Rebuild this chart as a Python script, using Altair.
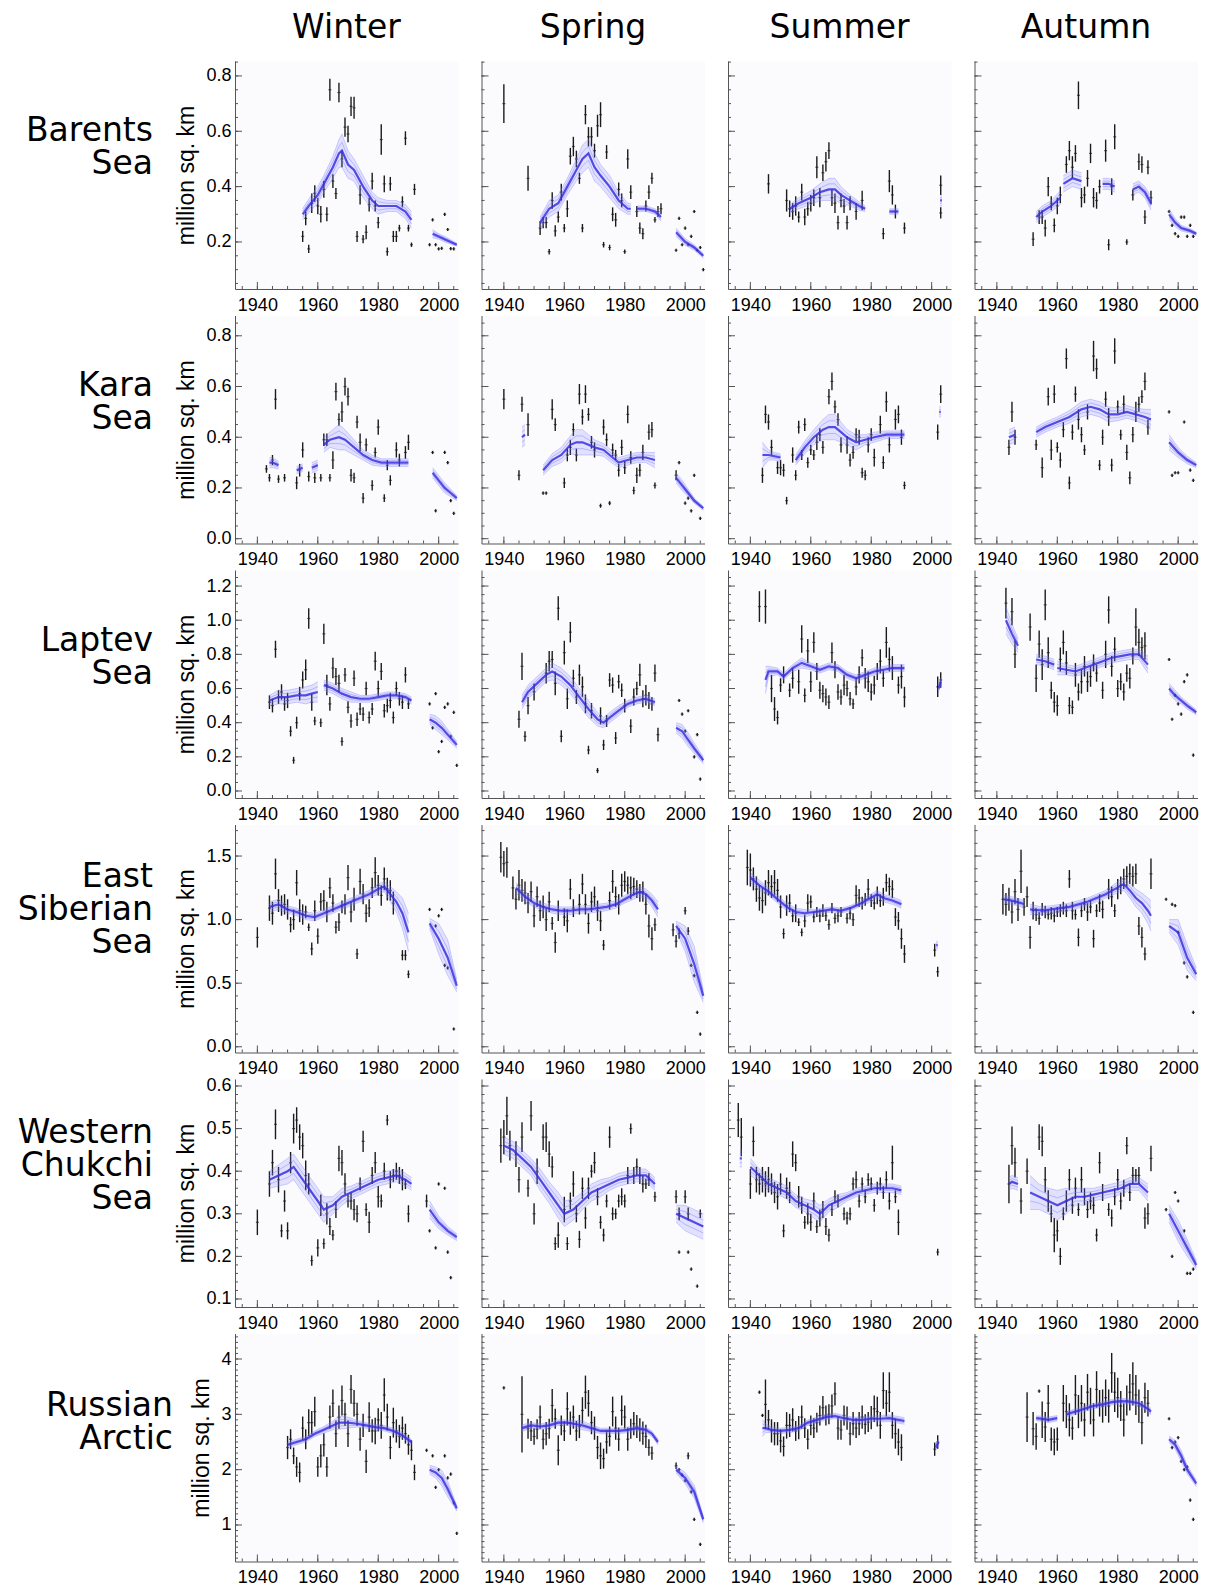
import altair as alt
import numpy as np
import pandas as pd

# ---------------- labels / axes ----------------
SEASONS = ["Winter", "Spring", "Summer", "Autumn"]
ROW_LABELS = ["Barents\nSea", "Kara\nSea", "Laptev\nSea", "East\nSiberian\nSea",
              "Western\nChukchi\nSea", "Russian\nArctic"]
YEAR_TICKS = [1940, 1960, 1980, 2000]
XDOM = [1932.6, 2006.4]
Y_DOMAINS = [[0.030, 0.854], [-0.019, 0.880], [-0.041, 1.294],
             [-0.045, 1.748], [0.0812, 0.6164], [0.340, 4.461]]
Y_LABELS = [[0.2, 0.4, 0.6, 0.8], [0.0, 0.2, 0.4, 0.6, 0.8],
            [0.0, 0.2, 0.4, 0.6, 0.8, 1.0, 1.2], [0.0, 0.5, 1.0, 1.5],
            [0.1, 0.2, 0.3, 0.4, 0.5, 0.6], [1, 2, 3, 4]]
Y_FORMATS = [".1f", ".1f", ".1f", ".1f", ".1f", "d"]
Y_MINOR = [0.05, 0.05, 0.05, 0.1, 0.02, 0.1]

# ---------------- data: (year, value, half error) ----------------
BARENTS_WINTER = [(1955,0.22,0.02),(1956,0.285,0.025),(1957,0.175,0.015),(1958,0.34,0.035),(1959,0.375,0.03),(1960,0.33,0.03),(1961,0.30,0.03),(1962,0.39,0.03),(1963,0.30,0.025),(1964,0.75,0.04),(1965,0.42,0.025),(1966,0.375,0.02),(1967,0.74,0.035),(1968,0.50,0.03),(1969,0.615,0.035),(1970,0.59,0.03),(1971,0.69,0.035),(1972,0.685,0.04),(1973,0.22,0.02),(1974,0.37,0.035),(1975,0.21,0.015),(1976,0.235,0.025),(1977,0.335,0.025),(1978,0.42,0.03),(1979,0.33,0.02),(1980,0.27,0.02),(1981,0.57,0.055),(1982,0.41,0.03),(1983,0.165,0.015),(1984,0.41,0.025),(1985,0.22,0.02),(1986,0.22,0.02),(1987,0.25,0.012),(1988,0.345,0.02),(1989,0.575,0.025),(1990,0.25,0.012),(1991,0.19,0.008),(1992,0.39,0.02),
    (1997,0.19,0),(1998,0.28,0),(1999,0.19,0),(2000,0.175,0),(2001,0.177,0),(2002,0.30,0),(2003,0.245,0),(2004,0.176,0),(2005,0.175,0)]
BARENTS_SPRING = [(1940,0.70,0.07),(1948,0.43,0.045),(1952,0.25,0.025),(1953,0.27,0.02),(1954,0.27,0.02),(1955,0.165,0.01),(1956,0.35,0.03),(1957,0.24,0.02),(1958,0.29,0.02),(1959,0.38,0.03),(1960,0.25,0.015),(1961,0.32,0.03),(1962,0.51,0.03),(1963,0.545,0.035),(1964,0.50,0.03),(1965,0.43,0.02),(1966,0.25,0.015),(1967,0.66,0.035),(1968,0.58,0.035),(1969,0.58,0.035),(1970,0.53,0.025),(1971,0.62,0.04),(1972,0.66,0.045),(1973,0.19,0.01),(1974,0.525,0.025),(1975,0.18,0.01),(1976,0.30,0.025),(1977,0.28,0.025),(1978,0.39,0.025),(1979,0.35,0.025),(1980,0.165,0.008),(1981,0.50,0.035),(1982,0.38,0.025),(1984,0.31,0.02),(1985,0.25,0.02),(1986,0.23,0.02),(1987,0.33,0.02),(1988,0.38,0.025),(1989,0.43,0.02),(1990,0.28,0.01),(1991,0.31,0.02),(1992,0.32,0.02),
    (1997,0.17,0),(1998,0.285,0),(1999,0.19,0),(2000,0.25,0),(2001,0.19,0),(2002,0.22,0),(2003,0.31,0),(2004,0.17,0),(2005,0.18,0),(2006,0.10,0)]
BARENTS_SUMMER = [(1946,0.41,0.035),(1952,0.35,0.04),(1953,0.32,0.03),(1954,0.31,0.03),(1955,0.33,0.035),(1956,0.29,0.02),(1957,0.38,0.03),(1958,0.29,0.03),(1959,0.32,0.025),(1960,0.34,0.03),(1961,0.36,0.03),(1962,0.47,0.04),(1963,0.36,0.035),(1964,0.45,0.03),(1965,0.49,0.035),(1966,0.53,0.03),(1967,0.36,0.03),(1968,0.34,0.035),(1969,0.27,0.025),(1970,0.35,0.025),(1971,0.33,0.025),(1972,0.27,0.025),(1973,0.34,0.025),(1975,0.31,0.03),(1977,0.35,0.035),
    (1984,0.23,0.02),(1986,0.42,0.04),(1987,0.37,0.035),(1988,0.31,0.025),(1991,0.25,0.02),(2003,0.405,0.035),(2003,0.305,0.02)]
BARENTS_AUTUMN = [(1952,0.21,0.025),(1954,0.29,0.025),(1955,0.29,0.025),(1956,0.25,0.03),(1957,0.40,0.035),(1958,0.34,0.025),(1959,0.26,0.025),(1960,0.33,0.03),(1961,0.37,0.03),(1963,0.48,0.03),(1964,0.53,0.035),(1965,0.47,0.04),(1966,0.52,0.03),(1967,0.73,0.05),(1968,0.36,0.035),(1969,0.37,0.03),(1970,0.43,0.03),(1971,0.52,0.035),(1972,0.36,0.035),(1973,0.35,0.03),(1974,0.40,0.025),(1976,0.53,0.04),(1977,0.19,0.02),(1978,0.40,0.03),(1979,0.58,0.045),(1983,0.20,0.01),(1985,0.37,0.02),(1987,0.49,0.03),(1988,0.48,0.03),(1989,0.29,0.025),(1990,0.47,0.025),(1991,0.36,0.025),
    (1997,0.31,0),(1998,0.26,0),(1999,0.23,0),(2000,0.22,0),(2001,0.29,0),(2002,0.29,0),(2003,0.22,0),(2004,0.26,0),(2005,0.22,0)]

KARA_WINTER = [(1943,0.275,0.015),(1944,0.24,0.015),(1945,0.31,0.02),(1946,0.55,0.04),(1947,0.235,0.015),(1949,0.24,0.015),(1953,0.22,0.025),(1954,0.27,0.025),(1955,0.35,0.03),(1957,0.245,0.02),(1959,0.24,0.02),(1961,0.24,0.015),(1962,0.39,0.025),(1963,0.39,0.025),(1964,0.24,0.015),(1965,0.31,0.035),(1966,0.58,0.035),(1967,0.47,0.025),(1968,0.50,0.04),(1969,0.60,0.035),(1970,0.56,0.035),(1971,0.25,0.025),(1972,0.24,0.02),(1973,0.46,0.025),(1974,0.38,0.035),(1975,0.16,0.02),(1976,0.37,0.025),(1978,0.21,0.02),(1979,0.34,0.02),(1980,0.44,0.03),(1982,0.16,0.015),(1983,0.29,0.02),(1984,0.23,0.02),(1986,0.35,0.03),(1987,0.31,0.025),(1989,0.34,0.025),(1990,0.38,0.03),
    (1998,0.34,0),(1999,0.11,0),(2002,0.34,0),(2003,0.30,0),(2004,0.15,0),(2005,0.10,0)]
KARA_SPRING = [(1940,0.55,0.04),(1945,0.25,0.02),(1946,0.53,0.03),(1948,0.45,0.045),(1953,0.18,0.006),(1954,0.18,0.006),(1956,0.51,0.04),(1957,0.45,0.025),(1960,0.22,0.02),(1961,0.33,0.025),(1962,0.36,0.03),(1963,0.43,0.025),(1964,0.33,0.025),(1965,0.57,0.04),(1966,0.48,0.03),(1967,0.57,0.035),(1968,0.49,0.025),(1969,0.38,0.025),(1970,0.35,0.03),(1972,0.13,0.008),(1973,0.44,0.03),(1974,0.39,0.025),(1975,0.14,0.008),(1976,0.35,0.025),(1977,0.33,0.02),(1978,0.27,0.025),(1979,0.36,0.03),(1980,0.28,0.025),(1981,0.49,0.035),(1982,0.32,0.025),(1983,0.19,0.015),(1984,0.25,0.03),(1985,0.27,0.025),(1986,0.34,0.03),(1988,0.42,0.03),(1989,0.43,0.03),(1990,0.21,0.012),
    (1997,0.25,0.02),(1998,0.30,0),(2000,0.14,0),(2001,0.16,0),(2002,0.11,0),(2003,0.25,0),(2005,0.08,0)]
KARA_SUMMER = [(1944,0.25,0.03),(1945,0.49,0.035),(1946,0.46,0.03),(1947,0.36,0.03),(1949,0.28,0.025),(1950,0.28,0.03),(1951,0.27,0.025),(1952,0.15,0.015),(1954,0.33,0.03),(1955,0.25,0.02),(1956,0.44,0.025),(1957,0.33,0.02),(1958,0.45,0.025),(1959,0.30,0.02),(1960,0.35,0.02),(1961,0.33,0.02),(1962,0.38,0.03),(1963,0.41,0.025),(1964,0.36,0.025),(1966,0.56,0.03),(1967,0.62,0.035),(1968,0.52,0.025),(1969,0.47,0.025),(1970,0.37,0.03),(1972,0.37,0.035),(1973,0.31,0.025),(1974,0.34,0.025),(1975,0.41,0.025),(1976,0.40,0.03),(1977,0.26,0.02),(1978,0.25,0.02),(1979,0.37,0.03),(1980,0.41,0.025),(1981,0.32,0.035),(1983,0.45,0.035),(1984,0.30,0.025),(1985,0.54,0.04),(1986,0.37,0.03),(1988,0.47,0.04),(1989,0.49,0.035),(1990,0.40,0.03),(1991,0.21,0.015),
    (2002,0.42,0.03),(2003,0.57,0.035)]
KARA_AUTUMN = [(1944,0.36,0.03),(1945,0.50,0.04),(1946,0.40,0.03),(1953,0.37,0.02),(1955,0.28,0.04),(1957,0.56,0.035),(1958,0.35,0.04),(1959,0.57,0.035),(1960,0.36,0.02),(1961,0.31,0.03),(1962,0.43,0.03),(1963,0.71,0.04),(1964,0.22,0.025),(1965,0.42,0.03),(1966,0.57,0.03),(1967,0.47,0.04),(1968,0.41,0.03),(1969,0.35,0.02),(1970,0.50,0.03),(1972,0.72,0.06),(1973,0.67,0.04),(1974,0.29,0.02),(1975,0.40,0.03),(1976,0.55,0.03),(1977,0.48,0.035),(1978,0.29,0.025),(1979,0.74,0.05),(1980,0.52,0.025),(1981,0.41,0.02),(1982,0.53,0.035),(1983,0.34,0.03),(1984,0.24,0.025),(1985,0.41,0.03),(1986,0.50,0.04),(1987,0.53,0.03),(1988,0.56,0.025),(1989,0.62,0.035),(1990,0.44,0.03),
    (1997,0.50,0.006),(1998,0.25,0),(1999,0.26,0),(2000,0.26,0),(2002,0.46,0),(2004,0.27,0),(2005,0.23,0)]

LAPTEV_WINTER = [(1944,0.52,0.04),(1945,0.50,0.04),(1946,0.83,0.05),(1947,0.55,0.04),(1948,0.58,0.045),(1949,0.51,0.04),(1950,0.53,0.045),(1951,0.35,0.03),(1952,0.18,0.02),(1953,0.40,0.035),(1954,0.57,0.04),(1955,0.65,0.05),(1956,0.71,0.06),(1957,1.01,0.06),(1958,0.52,0.05),(1959,0.41,0.025),
    (1961,0.40,0.025),(1962,0.92,0.06),(1963,0.62,0.06),(1964,0.51,0.04),(1965,0.72,0.06),(1966,0.67,0.05),(1967,0.63,0.05),(1968,0.29,0.025),(1969,0.68,0.04),(1970,0.49,0.035),(1971,0.41,0.04),(1972,0.66,0.045),(1973,0.42,0.04),(1974,0.48,0.035),(1975,0.45,0.04),(1976,0.60,0.04),(1977,0.43,0.035),(1978,0.48,0.035),(1979,0.76,0.055),(1980,0.60,0.045),(1981,0.70,0.05),(1982,0.47,0.04),(1983,0.50,0.04),(1984,0.53,0.045),(1985,0.43,0.035),(1986,0.60,0.04),(1987,0.54,0.04),(1988,0.52,0.04),(1989,0.68,0.045),(1990,0.51,0.03),
    (1997,0.51,0),(1998,0.37,0),(1999,0.57,0),(2000,0.23,0),(2001,0.29,0),(2002,0.49,0),(2003,0.51,0),(2004,0.32,0),(2005,0.46,0),(2006,0.15,0)]
LAPTEV_SPRING = [(1945,0.42,0.05),(1946,0.73,0.08),(1947,0.32,0.03),(1948,0.50,0.05),(1950,0.58,0.05),(1954,0.69,0.06),(1955,0.76,0.06),(1956,0.77,0.05),(1957,0.63,0.07),(1958,1.07,0.07),(1959,0.32,0.035),(1960,0.81,0.07),(1961,0.54,0.06),(1962,0.93,0.06),(1963,0.66,0.05),(1964,0.55,0.04),(1965,0.68,0.06),(1966,0.61,0.06),(1967,0.51,0.055),(1968,0.24,0.025),(1969,0.47,0.045),(1971,0.12,0.015),(1972,0.44,0.05),(1973,0.27,0.03),(1974,0.41,0.035),(1975,0.65,0.04),(1976,0.62,0.045),(1977,0.31,0.035),(1978,0.64,0.04),(1979,0.59,0.04),(1980,0.50,0.04),(1982,0.38,0.04),(1983,0.55,0.05),(1984,0.60,0.04),(1985,0.68,0.065),(1986,0.54,0.05),(1987,0.56,0.06),(1988,0.53,0.05),(1989,0.51,0.04),(1990,0.69,0.05),(1991,0.33,0.04),
    (1998,0.53,0),(1999,0.45,0),(2000,0.35,0),(2001,0.47,0),(2003,0.20,0),(2004,0.33,0),(2005,0.07,0)]
LAPTEV_SUMMER = [(1943,1.08,0.09),(1945,1.08,0.10),(1947,0.60,0.08),(1948,0.48,0.07),(1949,0.43,0.04),(1950,0.62,0.04),(1951,0.68,0.05),(1953,0.59,0.04),(1954,0.66,0.06),(1956,0.64,0.07),(1957,0.89,0.08),(1958,0.56,0.04),(1959,0.82,0.07),(1960,0.64,0.06),(1961,0.87,0.06),(1962,0.70,0.05),(1963,0.59,0.05),(1964,0.57,0.05),(1965,0.55,0.05),(1966,0.52,0.04),(1967,0.81,0.06),(1968,0.71,0.05),(1969,0.58,0.045),(1970,0.55,0.045),(1971,0.62,0.06),(1972,0.60,0.045),(1973,0.54,0.04),(1974,0.51,0.03),(1975,0.61,0.05),(1976,0.68,0.05),(1977,0.78,0.05),(1978,0.66,0.06),(1979,0.64,0.06),(1980,0.58,0.05),(1981,0.62,0.055),(1982,0.70,0.05),(1983,0.76,0.07),(1984,0.66,0.05),(1985,0.87,0.09),(1986,0.77,0.07),(1987,0.72,0.07),(1989,0.62,0.05),(1990,0.67,0.07),(1991,0.55,0.06),
    (2002,0.61,0.06),(2003,0.65,0.045)]
LAPTEV_AUTUMN = [(1943,1.10,0.09),(1945,1.05,0.08),(1946,0.80,0.08),(1951,0.96,0.08),(1953,0.66,0.08),(1954,0.86,0.08),(1955,0.74,0.09),(1956,1.09,0.09),(1957,0.81,0.09),(1958,0.59,0.05),(1959,0.52,0.06),(1960,0.50,0.06),(1961,0.77,0.07),(1962,0.87,0.07),(1963,0.75,0.07),(1964,0.50,0.05),(1965,0.49,0.04),(1966,0.68,0.07),(1967,0.58,0.05),(1968,0.64,0.07),(1969,0.73,0.06),(1970,0.64,0.06),(1971,0.67,0.06),(1972,0.75,0.05),(1973,0.69,0.05),(1975,0.59,0.05),(1976,0.80,0.08),(1977,1.06,0.08),(1978,0.73,0.06),(1979,0.83,0.07),(1980,0.60,0.05),(1981,0.64,0.05),(1982,0.58,0.05),(1983,0.69,0.05),(1984,0.66,0.06),(1985,0.79,0.05),(1986,0.96,0.11),(1987,0.87,0.08),(1988,0.84,0.06),(1989,0.85,0.08),
    (1997,0.77,0),(1998,0.42,0),(1999,0.56,0),(2000,0.51,0),(2001,0.45,0),(2002,0.64,0),(2003,0.68,0),(2005,0.21,0)]

ESIB_WINTER = [(1940,0.86,0.08),(1944,1.09,0.10),(1945,1.05,0.09),(1946,1.36,0.12),(1947,1.15,0.09),(1948,1.11,0.08),(1949,1.12,0.08),(1950,1.08,0.08),(1951,0.96,0.06),(1952,1.00,0.08),(1953,1.29,0.10),(1954,1.07,0.09),(1955,1.04,0.08),(1956,1.06,0.05),(1957,0.94,0.03),(1958,0.77,0.05),(1959,1.07,0.08),(1960,0.87,0.06),(1961,1.14,0.07),(1962,1.15,0.08),(1963,1.06,0.08),(1964,1.25,0.08),(1965,1.13,0.07),(1966,0.94,0.05),(1967,0.98,0.07),(1968,1.10,0.05),(1969,1.12,0.08),(1970,1.33,0.10),(1971,1.06,0.08),(1972,1.16,0.09),(1973,0.73,0.04),(1974,1.30,0.10),(1975,1.20,0.08),(1976,1.05,0.07),(1977,1.09,0.07),(1978,1.25,0.08),(1979,1.37,0.12),(1980,1.27,0.08),(1981,1.19,0.08),(1982,1.32,0.09),(1983,1.24,0.09),(1984,1.23,0.08),(1985,1.13,0.09),(1988,0.72,0.04),(1989,0.72,0.04),(1990,0.57,0.03),
    (1997,1.08,0),(1999,0.95,0),(2000,1.03,0),(2001,1.08,0),(2002,0.64,0),(2003,0.62,0),(2005,0.14,0)]
ESIB_SPRING = [(1939,1.49,0.12),(1940,1.44,0.10),(1941,1.45,0.12),(1943,1.25,0.09),(1944,1.16,0.08),(1945,1.27,0.12),(1946,1.23,0.09),(1947,1.21,0.09),(1948,1.13,0.08),(1949,1.22,0.08),(1950,1.03,0.09),(1951,1.18,0.08),(1952,1.07,0.08),(1953,1.10,0.09),(1954,1.00,0.09),(1955,1.14,0.08),(1956,0.97,0.05),(1957,0.82,0.08),(1958,1.07,0.08),(1960,1.02,0.07),(1961,0.99,0.09),(1962,1.24,0.08),(1963,1.09,0.07),(1965,1.12,0.08),(1966,1.28,0.08),(1967,1.12,0.08),(1968,0.97,0.08),(1969,1.14,0.08),(1970,1.18,0.08),(1971,1.07,0.08),(1972,0.99,0.08),(1973,0.80,0.04),(1975,1.15,0.07),(1976,1.30,0.09),(1977,1.18,0.08),(1978,1.12,0.08),(1979,1.27,0.09),(1980,1.30,0.08),(1981,1.27,0.07),(1982,1.25,0.09),(1983,1.26,0.07),(1984,1.24,0.07),(1985,1.21,0.07),(1986,1.22,0.08),(1987,1.12,0.08),(1988,0.95,0.09),(1989,0.85,0.09),(1990,0.96,0.05),
    (1996,0.92,0.05),(1997,0.83,0.05),(1998,0.89,0.04),(2000,1.07,0.03),(2001,0.91,0.03),(2002,0.64,0),(2003,0.56,0),(2004,0.27,0),(2005,0.10,0)]
ESIB_SUMMER = [(1939,1.41,0.14),(1940,1.39,0.13),(1941,1.32,0.09),(1942,1.24,0.10),(1943,1.17,0.10),(1944,1.15,0.10),(1945,1.21,0.10),(1946,1.29,0.10),(1947,1.26,0.09),(1948,1.29,0.10),(1949,1.23,0.09),(1950,1.10,0.09),(1951,0.89,0.04),(1952,1.11,0.08),(1953,1.13,0.07),(1954,1.03,0.05),(1955,1.05,0.07),(1956,0.98,0.03),(1957,0.90,0.03),(1958,0.99,0.05),(1959,1.13,0.07),(1960,1.14,0.05),(1961,1.02,0.04),(1962,1.06,0.04),(1963,1.03,0.05),(1964,1.07,0.05),(1965,1.03,0.04),(1966,0.96,0.04),(1967,1.09,0.04),(1968,1.01,0.04),(1969,1.03,0.05),(1970,1.06,0.04),(1972,1.01,0.04),(1973,1.05,0.05),(1974,1.00,0.05),(1975,1.19,0.08),(1976,1.17,0.07),(1977,1.13,0.05),(1978,1.16,0.05),(1979,1.24,0.08),(1980,1.15,0.05),(1981,1.13,0.05),(1982,1.19,0.07),(1983,1.15,0.05),(1984,1.18,0.07),(1985,1.29,0.07),(1986,1.26,0.07),(1987,1.24,0.07),(1988,1.02,0.07),(1989,0.99,0.07),(1990,0.85,0.08),(1991,0.73,0.07),
    (2001,0.76,0.05),(2002,0.59,0.04)]
ESIB_AUTUMN = [(1942,1.16,0.12),(1943,1.12,0.09),(1944,1.16,0.09),(1945,1.06,0.09),(1946,1.22,0.10),(1947,1.08,0.09),(1948,1.38,0.17),(1949,1.10,0.07),(1950,1.18,0.08),(1951,0.86,0.09),(1952,1.07,0.07),(1953,1.04,0.05),(1954,1.01,0.05),(1955,1.08,0.05),(1956,1.06,0.05),(1957,1.04,0.04),(1958,1.05,0.05),(1959,1.03,0.05),(1960,1.06,0.04),(1961,1.07,0.05),(1962,1.09,0.05),(1963,1.07,0.05),(1964,1.32,0.07),(1965,1.07,0.07),(1966,1.04,0.04),(1967,0.86,0.07),(1968,1.07,0.05),(1969,1.12,0.05),(1970,1.06,0.07),(1971,1.10,0.05),(1972,0.85,0.07),(1973,1.07,0.05),(1974,1.13,0.07),(1975,1.08,0.07),(1977,1.24,0.08),(1978,1.18,0.08),(1979,1.07,0.05),(1980,1.24,0.08),(1981,1.27,0.07),(1982,1.32,0.08),(1983,1.34,0.08),(1984,1.36,0.08),(1985,1.34,0.08),(1986,1.36,0.08),(1987,0.95,0.07),(1988,0.86,0.08),(1989,0.73,0.05),(1991,1.36,0.12),
    (1996,1.16,0),(1998,1.12,0),(1999,1.11,0),(2000,0.90,0),(2002,0.66,0),(2003,0.55,0),(2005,0.27,0)]

WCHUK_WINTER = [(1940,0.28,0.03),(1944,0.37,0.03),(1945,0.42,0.03),(1946,0.51,0.035),(1947,0.38,0.03),(1948,0.26,0.015),(1949,0.33,0.025),(1950,0.26,0.02),(1951,0.42,0.025),(1952,0.50,0.035),(1953,0.52,0.03),(1954,0.48,0.03),(1955,0.46,0.03),(1956,0.39,0.035),(1957,0.37,0.025),(1958,0.19,0.012),(1960,0.22,0.02),(1961,0.32,0.025),(1962,0.23,0.012),(1963,0.30,0.025),(1964,0.27,0.02),(1965,0.25,0.012),(1966,0.31,0.02),(1967,0.43,0.03),(1968,0.42,0.03),(1969,0.37,0.025),(1970,0.33,0.015),(1971,0.33,0.02),(1972,0.31,0.025),(1973,0.30,0.02),(1974,0.37,0.015),(1975,0.47,0.025),(1976,0.31,0.015),(1977,0.28,0.025),(1978,0.39,0.02),(1979,0.42,0.025),(1980,0.34,0.025),(1981,0.33,0.015),(1982,0.40,0.02),(1983,0.52,0.012),(1984,0.38,0.02),(1985,0.39,0.015),(1986,0.40,0.02),(1987,0.39,0.02),(1988,0.38,0.025),(1989,0.37,0.012),(1990,0.30,0.02),
    (1996,0.33,0.015),(1997,0.26,0),(1999,0.22,0),(2000,0.37,0),(2002,0.36,0),(2003,0.21,0),(2004,0.15,0)]
WCHUK_SPRING = [(1939,0.46,0.04),(1940,0.48,0.04),(1941,0.53,0.045),(1942,0.46,0.035),(1944,0.44,0.03),(1945,0.38,0.03),(1946,0.48,0.035),(1948,0.36,0.02),(1949,0.53,0.035),(1950,0.30,0.025),(1951,0.40,0.03),(1953,0.48,0.03),(1954,0.48,0.035),(1955,0.44,0.03),(1956,0.41,0.025),(1957,0.23,0.015),(1958,0.25,0.03),(1960,0.31,0.03),(1961,0.23,0.015),(1962,0.33,0.02),(1963,0.37,0.03),(1964,0.30,0.02),(1965,0.24,0.02),(1966,0.36,0.025),(1967,0.29,0.025),(1968,0.36,0.025),(1969,0.40,0.015),(1970,0.42,0.025),(1971,0.34,0.02),(1972,0.28,0.015),(1973,0.25,0.015),(1974,0.33,0.015),(1975,0.48,0.025),(1976,0.30,0.015),(1977,0.30,0.012),(1978,0.33,0.015),(1979,0.34,0.02),(1980,0.33,0.015),(1981,0.39,0.02),(1982,0.50,0.012),(1983,0.39,0.02),(1984,0.41,0.02),(1985,0.39,0.02),(1986,0.37,0.02),(1987,0.37,0.012),(1988,0.38,0.015),(1990,0.34,0.012),
    (1997,0.34,0.015),(1998,0.30,0.015),(1998,0.21,0),(2000,0.34,0.015),(2001,0.30,0.015),(2001,0.21,0),(2002,0.17,0),(2004,0.13,0),(2005,0.30,0.01)]
WCHUK_SUMMER = [(1936,0.52,0.04),(1937,0.48,0.045),(1940,0.37,0.035),(1941,0.47,0.035),(1942,0.38,0.03),(1943,0.37,0.025),(1944,0.38,0.03),(1945,0.37,0.03),(1946,0.38,0.03),(1947,0.37,0.025),(1948,0.35,0.025),(1949,0.34,0.03),(1950,0.37,0.025),(1951,0.26,0.015),(1952,0.36,0.025),(1953,0.35,0.025),(1954,0.44,0.03),(1955,0.42,0.02),(1956,0.34,0.025),(1957,0.32,0.02),(1958,0.28,0.015),(1959,0.30,0.025),(1960,0.28,0.02),(1961,0.33,0.02),(1962,0.27,0.015),(1963,0.29,0.02),(1964,0.31,0.02),(1965,0.27,0.02),(1966,0.25,0.015),(1967,0.31,0.015),(1968,0.34,0.015),(1969,0.33,0.015),(1971,0.30,0.015),(1972,0.29,0.015),(1973,0.30,0.015),(1974,0.37,0.015),(1975,0.38,0.02),(1976,0.33,0.015),(1977,0.37,0.015),(1978,0.34,0.015),(1979,0.38,0.015),(1980,0.37,0.015),(1981,0.32,0.015),(1982,0.36,0.015),(1983,0.37,0.015),(1984,0.35,0.015),(1985,0.38,0.02),(1986,0.33,0.02),(1987,0.42,0.04),(1988,0.34,0.015),(1989,0.28,0.03),
    (2002,0.21,0.008)]
WCHUK_AUTUMN = [(1944,0.37,0.045),(1945,0.46,0.045),(1946,0.42,0.035),(1948,0.33,0.03),(1950,0.40,0.03),(1954,0.48,0.03),(1955,0.47,0.035),(1956,0.38,0.03),(1957,0.33,0.025),(1958,0.30,0.02),(1959,0.25,0.04),(1960,0.26,0.025),(1961,0.20,0.02),(1962,0.30,0.015),(1963,0.33,0.025),(1964,0.38,0.025),(1965,0.32,0.02),(1966,0.36,0.025),(1967,0.31,0.015),(1968,0.38,0.03),(1969,0.34,0.02),(1970,0.31,0.02),(1971,0.33,0.02),(1972,0.32,0.02),(1973,0.25,0.015),(1974,0.42,0.025),(1975,0.35,0.02),(1977,0.31,0.015),(1978,0.29,0.02),(1979,0.34,0.02),(1980,0.38,0.025),(1981,0.33,0.02),(1982,0.36,0.02),(1983,0.46,0.02),(1984,0.35,0.02),(1985,0.39,0.02),(1986,0.39,0.015),(1987,0.39,0.02),(1989,0.29,0.025),(1990,0.30,0.025),(1991,0.43,0.03),
    (1996,0.31,0),(1998,0.20,0),(1999,0.35,0),(2000,0.33,0),(2002,0.26,0),(2003,0.16,0),(2004,0.16,0),(2005,0.17,0)]

RUSS_WINTER = [(1950,2.40,0.21),(1951,2.55,0.18),(1952,2.25,0.15),(1953,2.05,0.18),(1954,1.95,0.18),(1955,2.75,0.21),(1956,2.55,0.18),(1957,2.85,0.24),(1958,2.85,0.21),(1959,3.05,0.27),(1960,2.05,0.18),(1961,2.25,0.21),(1962,2.45,0.21),(1963,2.05,0.18),(1964,2.95,0.21),(1965,3.20,0.25),(1966,2.65,0.24),(1967,2.95,0.21),(1968,3.25,0.27),(1969,3.00,0.21),(1970,2.65,0.24),(1971,3.45,0.26),(1972,3.20,0.24),(1973,3.00,0.21),(1974,2.55,0.21),(1975,2.80,0.21),(1976,2.15,0.21),(1977,2.95,0.27),(1978,2.70,0.21),(1979,2.70,0.24),(1980,2.90,0.21),(1981,2.80,0.24),(1982,3.35,0.30),(1983,2.95,0.24),(1984,2.40,0.21),(1985,2.85,0.27),(1986,2.70,0.21),(1987,2.60,0.21),(1988,2.75,0.21),(1989,2.65,0.18),(1990,2.45,0.18),(1991,2.35,0.18),(1992,1.95,0.14),
    (1996,2.35,0),(1998,2.25,0),(1999,1.68,0),(2000,2.00,0),(2002,2.25,0),(2003,1.85,0),(2004,1.92,0),(2005,1.40,0),(2006,0.85,0)]
RUSS_SPRING = [(1940,3.48,0),(1946,3.00,0.69),(1948,2.74,0.18),(1949,2.70,0.18),(1950,2.60,0.15),(1951,2.73,0.18),(1952,2.95,0.21),(1953,2.55,0.18),(1954,2.65,0.21),(1955,2.74,0.18),(1956,3.16,0.30),(1957,2.92,0.18),(1958,2.35,0.27),(1959,2.80,0.18),(1960,2.70,0.18),(1961,3.10,0.30),(1962,2.84,0.21),(1963,2.95,0.21),(1964,2.70,0.18),(1965,2.78,0.21),(1966,3.07,0.24),(1967,3.40,0.30),(1968,3.20,0.24),(1969,2.85,0.21),(1970,2.75,0.21),(1971,2.40,0.21),(1972,2.25,0.24),(1973,2.20,0.18),(1974,2.50,0.21),(1975,2.60,0.18),(1976,3.05,0.27),(1977,2.75,0.21),(1978,2.55,0.21),(1979,3.07,0.27),(1980,2.95,0.21),(1981,2.55,0.21),(1982,2.74,0.18),(1983,2.83,0.21),(1984,2.78,0.21),(1985,2.72,0.21),(1986,2.66,0.21),(1987,2.60,0.21),(1988,2.40,0.15),(1989,2.30,0.12),
    (1997,2.07,0.06),(1998,2.00,0.03),(1999,1.90,0),(2000,1.80,0),(2001,2.25,0.06),(2002,1.60,0),(2003,1.10,0),(2005,0.65,0)]
RUSS_SUMMER = [(1943,3.40,0),(1944,2.98,0),(1945,3.18,0.45),(1946,2.90,0.18),(1947,2.70,0.21),(1948,2.65,0.21),(1949,2.65,0.21),(1950,2.52,0.21),(1951,2.42,0.18),(1952,2.80,0.24),(1953,2.80,0.21),(1954,2.90,0.21),(1955,2.70,0.18),(1956,2.76,0.21),(1957,2.95,0.21),(1958,2.75,0.18),(1959,2.55,0.18),(1960,2.80,0.18),(1961,2.75,0.18),(1962,2.85,0.18),(1963,2.98,0.18),(1964,3.12,0.21),(1965,2.98,0.18),(1966,3.00,0.18),(1967,3.15,0.21),(1968,3.37,0.21),(1969,2.75,0.21),(1970,2.72,0.18),(1971,2.98,0.18),(1972,2.93,0.21),(1973,2.65,0.21),(1974,2.83,0.21),(1975,2.75,0.18),(1976,2.83,0.21),(1977,2.95,0.21),(1978,2.82,0.18),(1979,2.86,0.18),(1980,2.94,0.21),(1981,3.10,0.24),(1982,3.05,0.27),(1983,2.80,0.24),(1984,3.43,0.33),(1985,3.20,0.24),(1986,3.40,0.36),(1987,2.80,0.24),(1988,2.65,0.27),(1989,2.50,0.24),(1990,2.40,0.24),
    (2001,2.37,0.12),(2002,2.50,0.12)]
RUSS_AUTUMN = [(1950,2.95,0.45),(1952,2.74,0.30),(1953,2.60,0.24),(1954,3.42,0),(1955,2.90,0.33),(1956,2.77,0.27),(1957,3.20,0.33),(1958,2.55,0.21),(1959,2.50,0.24),(1960,2.55,0.21),(1962,3.20,0.33),(1963,3.05,0.30),(1964,2.90,0.30),(1965,2.75,0.21),(1966,3.35,0.36),(1967,3.05,0.30),(1968,3.20,0.33),(1969,2.90,0.30),(1970,3.40,0.33),(1971,3.15,0.33),(1972,2.90,0.30),(1973,3.45,0.33),(1974,3.20,0.24),(1975,3.15,0.30),(1976,3.30,0.33),(1977,3.15,0.30),(1978,3.75,0.36),(1979,3.40,0.36),(1980,3.30,0.36),(1981,3.15,0.27),(1982,2.90,0.30),(1983,3.25,0.27),(1984,3.40,0.33),(1985,3.55,0.39),(1986,3.35,0.36),(1987,3.15,0.30),(1988,2.85,0.39),(1989,3.30,0.27),(1990,3.20,0.24),
    (1997,2.92,0),(1998,2.40,0),(1999,2.50,0),(2000,2.58,0),(2001,2.15,0),(2002,2.00,0),(2003,2.05,0),(2004,1.45,0),(2005,1.10,0)]

# ---------------- smoothed trends: segments of (year, value, spread) ----------------
BARENTS_WINTER_T = [[(1955,0.30,0.02),(1957,0.33,0.025),(1960,0.37,0.03),(1962,0.41,0.03),(1965,0.47,0.04),(1967,0.52,0.05),(1968,0.53,0.06),(1970,0.48,0.05),(1972,0.46,0.04),(1975,0.40,0.04),(1978,0.35,0.03),(1980,0.33,0.03),(1983,0.33,0.02),(1986,0.33,0.02),(1989,0.31,0.025),(1991,0.28,0.03)],
                    [(1998,0.23,0.015),(2000,0.22,0.01),(2002,0.21,0.01),(2004,0.20,0.008),(2006,0.19,0.005)]]
BARENTS_SPRING_T = [[(1952,0.27,0.02),(1955,0.32,0.03),(1958,0.34,0.03),(1961,0.40,0.03),(1964,0.46,0.04),(1966,0.50,0.05),(1968,0.52,0.05),(1970,0.47,0.05),(1972,0.44,0.04),(1975,0.40,0.04),(1978,0.35,0.03),(1981,0.32,0.02),(1982,0.32,0.02)],
                    [(1984,0.32,0.01),(1987,0.32,0.01),(1990,0.31,0.01),(1992,0.29,0.015)],
                    [(1997,0.235,0.015),(2000,0.20,0.012),(2003,0.18,0.01),(2006,0.15,0.008)]]
BARENTS_SUMMER_T = [[(1953,0.32,0.015),(1956,0.34,0.02),(1960,0.36,0.025),(1963,0.38,0.03),(1966,0.39,0.04),(1968,0.39,0.04),(1970,0.37,0.03),(1973,0.35,0.02),(1976,0.33,0.015),(1978,0.32,0.01)],
                    [(1986,0.31,0.01),(1989,0.31,0.01)],
                    [(2002.8,0.35,0.02),(2003.4,0.35,0.02)]]
BARENTS_AUTUMN_T = [[(1953,0.29,0.02),(1955,0.31,0.02),(1958,0.33,0.02),(1961,0.36,0.025)],
                    [(1962,0.41,0.03),(1965,0.43,0.03),(1968,0.42,0.03)],
                    [(1975,0.41,0.02),(1977,0.41,0.02),(1979,0.40,0.02)],
                    [(1985,0.39,0.02),(1987,0.40,0.02),(1989,0.38,0.02),(1991,0.34,0.025)],
                    [(1997,0.30,0.02),(1999,0.27,0.015),(2001,0.25,0.01),(2004,0.24,0.008),(2006,0.23,0.006)]]
KARA_WINTER_T = [[(1944,0.30,0.02),(1945,0.30,0.02),(1947,0.29,0.015)],
                 [(1953,0.27,0.015),(1955,0.28,0.015)],
                 [(1958,0.28,0.02),(1960,0.29,0.02)],
                 [(1962,0.37,0.03),(1964,0.39,0.03),(1967,0.40,0.05),(1969,0.39,0.04),(1972,0.36,0.03),(1975,0.33,0.02),(1978,0.31,0.02),(1981,0.30,0.015),(1984,0.30,0.015),(1987,0.30,0.015),(1990,0.30,0.015)],
                 [(1998,0.26,0.02),(2000,0.23,0.02),(2002,0.20,0.02),(2004,0.18,0.015),(2006,0.16,0.01)]]
KARA_SPRING_T = [[(1946,0.40,0.04),(1947,0.41,0.04)],
                 [(1953,0.27,0.02),(1956,0.31,0.025),(1959,0.33,0.03),(1962,0.37,0.035),(1964,0.38,0.05),(1966,0.38,0.05),(1968,0.37,0.04),(1970,0.36,0.03),(1973,0.35,0.025),(1975,0.33,0.025),(1978,0.30,0.02),(1981,0.31,0.02),(1984,0.32,0.02),(1987,0.32,0.02),(1990,0.31,0.03)],
                 [(1997,0.24,0.02),(1999,0.21,0.02),(2001,0.18,0.015),(2003,0.15,0.01),(2006,0.12,0.008)]]
KARA_SUMMER_T = [[(1944,0.33,0.05),(1946,0.33,0.02),(1948,0.325,0.015),(1950,0.32,0.015)],
                 [(1955,0.31,0.02),(1958,0.36,0.025),(1961,0.40,0.03),(1964,0.43,0.04),(1966,0.44,0.05),(1968,0.44,0.05),(1970,0.42,0.04),(1972,0.40,0.03),(1975,0.38,0.03),(1978,0.39,0.02),(1981,0.40,0.02),(1985,0.41,0.015),(1991,0.41,0.015)],
                 [(2002.5,0.50,0.02),(2003,0.50,0.02)]]
KARA_AUTUMN_T = [[(1944,0.40,0.03),(1946,0.41,0.03)],
                 [(1953,0.42,0.02),(1956,0.44,0.02),(1960,0.46,0.02),(1964,0.48,0.025),(1968,0.51,0.03),(1971,0.52,0.03),(1974,0.51,0.03),(1977,0.49,0.03),(1980,0.49,0.025),(1983,0.50,0.025),(1986,0.49,0.025),(1989,0.48,0.03),(1991,0.47,0.04)],
                 [(1997,0.38,0.03),(2000,0.34,0.02),(2003,0.31,0.015),(2006,0.29,0.01)]]
LAPTEV_WINTER_T = [[(1944,0.53,0.03),(1947,0.55,0.04),(1950,0.55,0.04),(1953,0.56,0.04),(1956,0.56,0.05),(1958,0.57,0.05),(1960,0.58,0.06)],
                   [(1962,0.62,0.03),(1965,0.60,0.03),(1968,0.57,0.03),(1971,0.55,0.03),(1974,0.54,0.02),(1977,0.54,0.02),(1980,0.55,0.02),(1983,0.56,0.02),(1986,0.56,0.02),(1989,0.55,0.02),(1991,0.53,0.02)],
                   [(1997,0.42,0.03),(1999,0.40,0.04),(2001,0.37,0.04),(2003,0.33,0.03),(2006,0.27,0.02)]]
LAPTEV_SPRING_T = [[(1946,0.52,0.04),(1948,0.58,0.04),(1951,0.63,0.04),(1954,0.68,0.04),(1956,0.70,0.05),(1959,0.67,0.05),(1962,0.62,0.05),(1965,0.55,0.05),(1968,0.48,0.05),(1971,0.42,0.04),(1973,0.40,0.03),(1975,0.43,0.03),(1978,0.47,0.03),(1981,0.51,0.02),(1984,0.53,0.02),(1987,0.54,0.02),(1990,0.52,0.02)],
                   [(1997,0.37,0.03),(1999,0.35,0.04),(2001,0.30,0.04),(2003,0.25,0.03),(2006,0.18,0.02)]]
LAPTEV_SUMMER_T = [[(1945,0.65,0.08),(1946,0.70,0.03),(1949,0.70,0.02),(1951,0.67,0.02),(1954,0.72,0.02),(1957,0.75,0.03),(1960,0.73,0.02),(1963,0.71,0.02),(1966,0.73,0.02),(1969,0.72,0.02),(1972,0.68,0.02),(1975,0.66,0.02),(1978,0.68,0.02),(1981,0.70,0.02),(1984,0.71,0.02),(1987,0.72,0.02),(1991,0.72,0.02)],
                   [(2002.3,0.60,0.02),(2003,0.64,0.02)]]
LAPTEV_AUTUMN_T = [[(1943,1.00,0.08),(1945,0.92,0.06),(1947,0.85,0.04)],
                   [(1953,0.77,0.03),(1956,0.76,0.03),(1959,0.74,0.03)],
                   [(1960,0.72,0.04),(1963,0.71,0.03),(1966,0.70,0.03),(1969,0.72,0.03),(1972,0.74,0.03),(1975,0.76,0.03),(1978,0.78,0.03),(1981,0.79,0.03),(1984,0.80,0.03),(1987,0.80,0.03),(1990,0.74,0.05)],
                   [(1997,0.60,0.03),(1999,0.56,0.03),(2001,0.53,0.02),(2003,0.50,0.02),(2006,0.46,0.015)]]
ESIB_WINTER_T = [[(1944,1.10,0.04),(1947,1.12,0.04),(1950,1.08,0.03),(1953,1.06,0.03),(1956,1.03,0.03),(1959,1.02,0.03),(1962,1.05,0.03),(1965,1.08,0.03),(1968,1.11,0.03),(1971,1.14,0.03),(1974,1.17,0.03),(1977,1.20,0.03),(1980,1.24,0.04),(1982,1.26,0.04),(1984,1.20,0.06),(1986,1.14,0.08),(1988,1.05,0.12),(1990,0.90,0.15)],
                 [(1997,0.97,0.04),(2000,0.85,0.12),(2003,0.70,0.14),(2006,0.48,0.05)]]
ESIB_SPRING_T = [[(1944,1.25,0.04),(1947,1.18,0.04),(1950,1.13,0.03),(1953,1.10,0.03),(1956,1.08,0.03),(1959,1.07,0.03),(1962,1.07,0.03),(1965,1.08,0.03),(1968,1.08,0.03),(1971,1.09,0.03),(1974,1.10,0.03),(1977,1.12,0.03),(1980,1.16,0.03),(1983,1.20,0.04),(1985,1.22,0.04),(1987,1.20,0.04),(1989,1.15,0.05),(1991,1.08,0.06)],
                 [(1997,0.95,0.04),(2000,0.85,0.10),(2003,0.65,0.14),(2006,0.40,0.05)]]
ESIB_SUMMER_T = [[(1940,1.33,0.04),(1943,1.27,0.04),(1946,1.22,0.03),(1949,1.16,0.03),(1952,1.10,0.03),(1955,1.06,0.03),(1958,1.05,0.03),(1961,1.06,0.02),(1964,1.07,0.02),(1967,1.08,0.02),(1970,1.07,0.02),(1973,1.09,0.02),(1976,1.12,0.02),(1979,1.16,0.03),(1982,1.20,0.03),(1984,1.17,0.03),(1987,1.15,0.03),(1990,1.12,0.03)],
                 [(2001.5,0.80,0.03),(2002,0.80,0.03)]]
ESIB_AUTUMN_T = [[(1942,1.16,0.03),(1945,1.15,0.03),(1948,1.13,0.03),(1949,1.12,0.03)],
                 [(1951,1.08,0.04),(1955,1.07,0.03),(1958,1.08,0.03),(1961,1.09,0.03),(1964,1.10,0.03),(1967,1.12,0.03),(1970,1.14,0.03),(1973,1.17,0.03),(1976,1.20,0.03),(1979,1.24,0.04),(1982,1.28,0.05),(1984,1.23,0.06),(1986,1.17,0.07),(1988,1.13,0.08),(1990,1.07,0.10),(1991,1.03,0.12)],
                 [(1997,0.95,0.05),(2000,0.90,0.10),(2003,0.70,0.10),(2006,0.57,0.05)]]
WCHUK_WINTER_T = [[(1944,0.38,0.02),(1947,0.39,0.025),(1950,0.40,0.03),(1952,0.41,0.03),(1954,0.39,0.03),(1956,0.37,0.03),(1958,0.35,0.03),(1960,0.33,0.03),(1962,0.31,0.03),(1965,0.32,0.02),(1968,0.34,0.02),(1971,0.35,0.015),(1974,0.36,0.015),(1977,0.37,0.015),(1980,0.38,0.015),(1983,0.385,0.015),(1986,0.39,0.015),(1989,0.38,0.015),(1991,0.37,0.015)],
                  [(1997,0.31,0.02),(2000,0.28,0.015),(2003,0.26,0.01),(2006,0.245,0.008)]]
WCHUK_SPRING_T = [[(1940,0.46,0.02),(1943,0.45,0.02),(1946,0.43,0.02),(1949,0.41,0.02),(1952,0.38,0.025),(1955,0.35,0.025),(1958,0.32,0.03),(1960,0.30,0.03),(1963,0.31,0.025),(1966,0.33,0.02),(1969,0.35,0.02),(1972,0.36,0.02),(1975,0.37,0.015),(1978,0.38,0.015),(1981,0.385,0.015),(1984,0.39,0.015),(1987,0.39,0.015),(1990,0.37,0.015)],
                  [(1997,0.30,0.02),(2000,0.29,0.03),(2003,0.28,0.03),(2006,0.27,0.03)]]
WCHUK_SUMMER_T = [[(1936.5,0.43,0.02),(1937.2,0.43,0.02)],
                  [(1940,0.41,0.02),(1943,0.39,0.015),(1946,0.37,0.015),(1949,0.36,0.015),(1952,0.35,0.015),(1955,0.33,0.015),(1958,0.32,0.015),(1961,0.31,0.02),(1963,0.30,0.02),(1966,0.32,0.015),(1969,0.33,0.015),(1972,0.34,0.01),(1975,0.35,0.01),(1978,0.355,0.01),(1981,0.36,0.01),(1984,0.36,0.01),(1987,0.36,0.01),(1990,0.355,0.01)]]
WCHUK_AUTUMN_T = [[(1944,0.37,0.015),(1945,0.375,0.015),(1947,0.37,0.015)],
                  [(1951,0.35,0.04),(1954,0.34,0.03),(1957,0.33,0.03),(1960,0.32,0.035),(1963,0.33,0.03),(1966,0.34,0.02),(1969,0.34,0.02),(1972,0.345,0.015),(1975,0.35,0.015),(1978,0.355,0.015),(1981,0.36,0.015),(1984,0.37,0.015),(1987,0.37,0.015),(1990,0.35,0.02)],
                  [(1997,0.30,0.02),(2000,0.26,0.025),(2003,0.22,0.02),(2006,0.18,0.01)]]
RUSS_WINTER_T = [[(1950,2.45,0.05),(1953,2.50,0.05),(1956,2.55,0.05),(1959,2.65,0.05),(1962,2.72,0.06),(1965,2.80,0.08),(1967,2.85,0.12),(1970,2.85,0.10),(1973,2.83,0.06),(1976,2.80,0.05),(1979,2.77,0.05),(1982,2.75,0.05),(1985,2.70,0.05),(1988,2.62,0.05),(1991,2.50,0.05)],
                 [(1997,2.00,0.08),(1999,1.95,0.10),(2001,1.85,0.14),(2003,1.65,0.14),(2006,1.30,0.05)]]
RUSS_SPRING_T = [[(1946,2.75,0.06),(1949,2.80,0.05),(1952,2.78,0.05),(1955,2.80,0.05),(1958,2.85,0.05),(1961,2.85,0.05),(1964,2.82,0.07),(1966,2.80,0.08),(1969,2.75,0.06),(1972,2.70,0.05),(1975,2.70,0.05),(1978,2.70,0.05),(1981,2.72,0.05),(1984,2.75,0.05),(1987,2.72,0.05),(1989,2.65,0.05),(1991,2.50,0.05)],
                 [(1997,2.00,0.06),(2000,1.85,0.10),(2003,1.60,0.12),(2006,1.10,0.06)]]
RUSS_SUMMER_T = [[(1944,2.75,0.15),(1945,2.75,0.08),(1947,2.72,0.05),(1950,2.70,0.05),(1953,2.72,0.05),(1956,2.75,0.05),(1959,2.85,0.05),(1962,2.90,0.05),(1965,2.95,0.05),(1968,2.97,0.05),(1971,2.93,0.05),(1974,2.90,0.05),(1977,2.90,0.05),(1980,2.92,0.05),(1983,2.92,0.06),(1986,2.93,0.06),(1989,2.90,0.06),(1991,2.88,0.06)],
                 [(2001.3,2.40,0.05),(2002.3,2.50,0.05)]]
RUSS_AUTUMN_T = [[(1953,2.93,0.04),(1955,2.92,0.05),(1957,2.90,0.05),(1960,2.93,0.05)],
                 [(1963,3.00,0.05),(1966,3.05,0.05),(1969,3.10,0.05),(1972,3.15,0.05),(1975,3.18,0.05),(1978,3.22,0.05),(1981,3.24,0.05),(1984,3.23,0.05),(1987,3.20,0.05),(1990,3.10,0.06),(1991,3.05,0.06)],
                 [(1997,2.55,0.06),(1999,2.45,0.08),(2001,2.25,0.10),(2003,2.00,0.08),(2006,1.75,0.06)]]

BARS = [[BARENTS_WINTER, BARENTS_SPRING, BARENTS_SUMMER, BARENTS_AUTUMN],
        [KARA_WINTER, KARA_SPRING, KARA_SUMMER, KARA_AUTUMN],
        [LAPTEV_WINTER, LAPTEV_SPRING, LAPTEV_SUMMER, LAPTEV_AUTUMN],
        [ESIB_WINTER, ESIB_SPRING, ESIB_SUMMER, ESIB_AUTUMN],
        [WCHUK_WINTER, WCHUK_SPRING, WCHUK_SUMMER, WCHUK_AUTUMN],
        [RUSS_WINTER, RUSS_SPRING, RUSS_SUMMER, RUSS_AUTUMN]]
TRENDS = [[BARENTS_WINTER_T, BARENTS_SPRING_T, BARENTS_SUMMER_T, BARENTS_AUTUMN_T],
          [KARA_WINTER_T, KARA_SPRING_T, KARA_SUMMER_T, KARA_AUTUMN_T],
          [LAPTEV_WINTER_T, LAPTEV_SPRING_T, LAPTEV_SUMMER_T, LAPTEV_AUTUMN_T],
          [ESIB_WINTER_T, ESIB_SPRING_T, ESIB_SUMMER_T, ESIB_AUTUMN_T],
          [WCHUK_WINTER_T, WCHUK_SPRING_T, WCHUK_SUMMER_T, WCHUK_AUTUMN_T],
          [RUSS_WINTER_T, RUSS_SPRING_T, RUSS_SUMMER_T, RUSS_AUTUMN_T]]

# ---------------- layout / style ----------------
W, H = 223, 228
COL_GAP, ROW_GAP = 23.5, 26.5
LABEL_DX = [-82, -82, -82, -82, -82, -62]
LABEL_Y = [80, 80.5, 81, 62.5, 64, 82.5]
TICK_FONT = "Liberation Sans"
BIG_FONT = "DejaVu Sans"
AX_COLOR = "#555555"
BAR_COLOR = "#1b1b1b"
BLUE = "#3a2fe0"
BLUE_FAINT = "#7f7cff"


def make_panel(r, c):
    ydom = Y_DOMAINS[r]
    xscale = alt.Scale(domain=XDOM, nice=False, zero=False)
    yscale = alt.Scale(domain=ydom, nice=False, zero=False)
    xaxis = alt.Axis(values=YEAR_TICKS, format="d", title=None, grid=False, ticks=False,
                     tickSize=0, labelPadding=7, labelFlush=False, labelOverlap=False,
                     labelFont=TICK_FONT, labelFontSize=18, labelColor="black",
                     domainColor=AX_COLOR, domainWidth=1)
    if c == 0:
        yaxis = alt.Axis(values=Y_LABELS[r], format=Y_FORMATS[r], title="million sq. km",
                         grid=False, ticks=False, tickSize=0, labelPadding=4, labelFlush=False,
                         labelOverlap=False, labelFont=TICK_FONT, labelFontSize=18,
                         labelColor="black", domainColor=AX_COLOR, domainWidth=1,
                         titleFont=TICK_FONT, titleFontSize=23, titleFontWeight="normal",
                         titleColor="black", titlePadding=7)
    else:
        yaxis = alt.Axis(labels=False, title=None, grid=False, ticks=False, tickSize=0,
                         domainColor=AX_COLOR, domainWidth=1)

    def X(f):
        return alt.X(f, type="quantitative", scale=xscale, axis=xaxis)

    def Y(f):
        return alt.Y(f, type="quantitative", scale=yscale, axis=yaxis)

    step = Y_MINOR[r]
    start = np.ceil(ydom[0] / step - 1e-9) * step
    ymin = pd.DataFrame({"v": np.round(np.arange(start, ydom[1], step), 4)})
    ymaj = pd.DataFrame({"v": Y_LABELS[r]})
    xmin = pd.DataFrame({"t": list(range(1935, 2006, 5))})
    xmaj = pd.DataFrame({"t": YEAR_TICKS})
    layers = [
        alt.Chart(ymin).mark_rule(color=AX_COLOR, strokeWidth=1).encode(
            y=Y("v"), x=alt.value(0), x2=alt.value(3)),
        alt.Chart(ymaj).mark_rule(color=AX_COLOR, strokeWidth=1).encode(
            y=Y("v"), x=alt.value(0), x2=alt.value(7)),
        alt.Chart(xmin).mark_rule(color=AX_COLOR, strokeWidth=1).encode(
            x=X("t"), y=alt.value(H), y2=alt.value(H - 3)),
        alt.Chart(xmaj).mark_rule(color=AX_COLOR, strokeWidth=1).encode(
            x=X("t"), y=alt.value(H), y2=alt.value(H - 7)),
    ]

    bars = pd.DataFrame(BARS[r][c], columns=["year", "val", "err"])
    min_half = 1.6 * (ydom[1] - ydom[0]) / H
    half = np.maximum(bars["err"], min_half)
    bars["lo"] = bars["val"] - half
    bars["hi"] = bars["val"] + half
    layers.append(alt.Chart(bars).mark_rule(color=BAR_COLOR, strokeWidth=1.4).encode(
        x=X("year"), y=Y("lo"), y2=alt.Y2("hi")))
    layers.append(alt.Chart(bars).mark_tick(color=BAR_COLOR, orient="horizontal", size=3,
                                            thickness=1.2).encode(x=X("year"), y=Y("val")))

    rows = []
    for si, seg in enumerate(TRENDS[r][c]):
        for (yr, mid, sp) in seg:
            rows.append({"seg": si, "year": yr, "mid": mid, "lo": mid - sp, "hi": mid + sp,
                         "lo2": mid - sp * 0.5, "hi2": mid + sp * 0.5})
    tr = pd.DataFrame(rows)
    layers.append(alt.Chart(tr).mark_area(color=BLUE_FAINT, opacity=0.2).encode(
        x=X("year"), y=Y("lo"), y2=alt.Y2("hi"), detail="seg:N"))
    for fld, op in [("lo", 0.35), ("hi", 0.35), ("lo2", 0.45), ("hi2", 0.45)]:
        layers.append(alt.Chart(tr).mark_line(color=BLUE_FAINT, opacity=op, strokeWidth=1).encode(
            x=X("year"), y=Y(fld), detail="seg:N"))
    layers.append(alt.Chart(tr).mark_line(color=BLUE, opacity=0.85, strokeWidth=2.2).encode(
        x=X("year"), y=Y("mid"), detail="seg:N"))

    if c == 0:
        lab = pd.DataFrame({"label": [ROW_LABELS[r]]})
        layers.append(alt.Chart(lab).mark_text(
            font=BIG_FONT, fontSize=33, align="right", baseline="alphabetic",
            lineBreak="\n", lineHeight=33, color="black").encode(
            text="label:N", x=alt.value(LABEL_DX[r]), y=alt.value(LABEL_Y[r])))
    if r == 0:
        tt = pd.DataFrame({"label": [SEASONS[c]]})
        layers.append(alt.Chart(tt).mark_text(
            font=BIG_FONT, fontSize=33, align="center", baseline="alphabetic",
            color="black").encode(text="label:N", x=alt.value(W / 2), y=alt.value(-23)))
    if r == 0 and c == 0:
        anc = pd.DataFrame({"a": [0]})
        layers.append(alt.Chart(anc).mark_rule(color="white", strokeWidth=0.1).encode(
            x=alt.value(-233.9), y=alt.value(-59.9), y2=alt.value(-59.0)))

    return alt.layer(*layers).properties(width=W, height=H)


panels = [make_panel(r, c) for r in range(6) for c in range(4)]
chart = alt.concat(*panels, columns=4, bounds="flush",
                   spacing={"row": ROW_GAP, "column": COL_GAP}).properties(
    padding=0, background="white"
).configure_view(stroke="transparent", fill="#fbfbfe")

chart.save("out.html", embed_options={"renderer": "svg", "actions": False})
